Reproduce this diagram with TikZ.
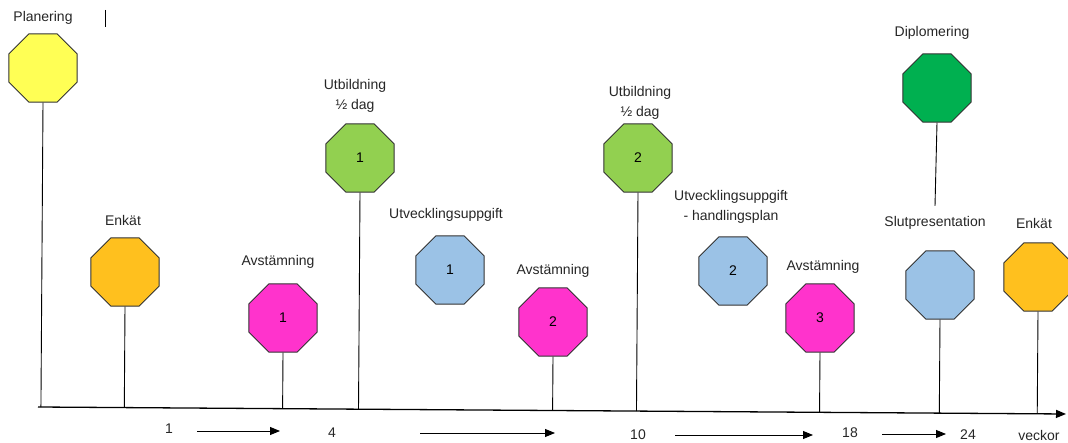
\documentclass[tikz,border=0pt]{standalone}
\usepackage{fontspec}
\setmainfont{Liberation Sans}
\usetikzlibrary{shapes.geometric,calc,arrows.meta}
\definecolor{gul}{RGB}{255,255,85}
\definecolor{orange}{RGB}{255,192,30}
\definecolor{rosa}{RGB}{255,51,204}
\definecolor{ljusgron}{RGB}{146,208,80}
\definecolor{bla}{RGB}{155,194,230}
\definecolor{morkgron}{RGB}{0,176,80}

\begin{document}
\begin{tikzpicture}[x=1pt,y=-1pt,
  okt/.style={regular polygon, regular polygon sides=8, minimum size=74pt, inner sep=0pt,
    draw=black!80, line width=0.9pt, font=\fontsize{14}{16}\selectfont},
  lbl/.style={align=center, text=black!85, font=\fontsize{14}{20}\selectfont},
  stem/.style={line width=0.9pt},
  pil/.style={line width=1pt, -{Triangle[length=10pt,width=8pt]}}]
\useasboundingbox (0,0) rectangle (1068,443);
%\draw[help lines, color=gray!30, dashed] (0,0) grid[step=50] (1068,443);

% tidsaxel
\coordinate (a0) at (38,407);
\coordinate (a1) at (1066,414);
\draw[line width=1.3pt, -{Triangle[length=10pt,width=8pt]}] (a0) -- (a1);

% skyltar
\node[okt, fill=gul] (plan) at (43,68) {};
\node[okt, fill=orange] (enk1) at (125,272) {};
\node[okt, fill=rosa] (avs1) at (283,318) {1};
\node[okt, fill=ljusgron] (utb1) at (360,158) {1};
\node[okt, fill=bla] (utv1) at (450,270) {1};
\node[okt, fill=rosa] (avs2) at (553,322) {2};
\node[okt, fill=ljusgron] (utb2) at (638,158) {2};
\node[okt, fill=bla] (utv2) at (733,271) {2};
\node[okt, fill=rosa] (avs3) at (820,318) {3};
\node[okt, fill=morkgron] (dipl) at (937,88) {};
\node[okt, fill=bla] (slut) at (940,285) {};
\node[okt, fill=orange] (enk2) at (1038,277) {};

% rubriker
\node[lbl] (planlbl) at (43,18) {Planering};
\node[lbl] (enk1lbl) at (123,220) {Enkät};
\node[lbl] (avs1lbl) at (278,262) {Avstämning};
\node[lbl] (utb1lbl) at (355,96) {Utbildning\\½ dag};
\node[lbl] (utv1lbl) at (446,215) {Utvecklingsuppgift};
\node[lbl] (avs2lbl) at (553,271) {Avstämning};
\node[lbl] (utb2lbl) at (640,103) {Utbildning\\½ dag};
\node[lbl] (utv2lbl) at (731,207) {Utvecklingsuppgift\\- handlingsplan};
\node[lbl] (avs3lbl) at (823,267) {Avstämning};
\node[lbl] (dipllbl) at (932,33) {Diplomering};
\node[lbl] (slutlbl) at (935,223) {Slutpresentation};
\node[lbl] (enk2lbl) at (1034,223) {Enkät};
\draw[stem] (105,10) -- (105,27);

% stolpar
\foreach \n in {plan,enk1,avs1,utb1,avs2,utb2,avs3,slut,enk2}
  \draw[stem] (\n.south) -- ($(a0)!(\n.south)!(a1)$);
\draw[stem] (dipl.south) -- ($(slutlbl.north)+(0,-7)$);

% veckor
\node[lbl] (v1) at (169,429) {1};
\node[lbl] (v4) at (332,433) {4};
\node[lbl] (v10) at (638,435) {10};
\node[lbl] (v18) at (850,433) {18};
\node[lbl] (v24) at (968,435) {24};
\node[lbl] (vlbl) at (1039,435) {veckor};
\coordinate (p1a) at (197,431);
\coordinate (p1b) at (280,431);
\coordinate (p2a) at (420,433);
\coordinate (p2b) at (555,433);
\coordinate (p3a) at (675,435);
\coordinate (p3b) at (813,435);
\coordinate (p4a) at (882,434);
\coordinate (p4b) at (946,434);
\draw[pil] (p1a) -- (p1b);
\draw[pil] (p2a) -- (p2b);
\draw[pil] (p3a) -- (p3b);
\draw[pil] (p4a) -- (p4b);
\end{tikzpicture}
\end{document}
